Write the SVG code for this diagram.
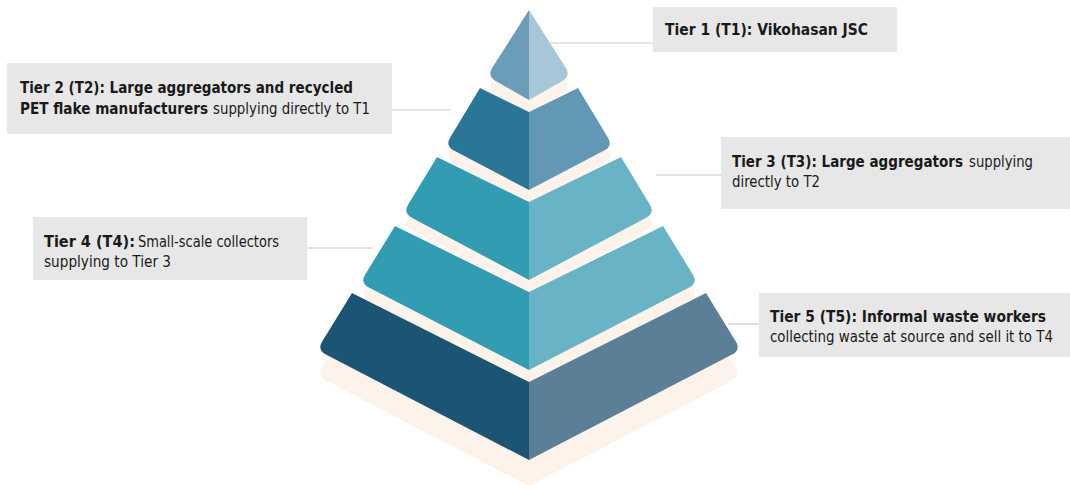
<svg xmlns="http://www.w3.org/2000/svg" width="1070" height="485" viewBox="0 0 1070 485">
<style>
.cream{fill:#fdf3ea}
.t1l{fill:#6b9cba}.t1r{fill:#a7c7d8}
.t2l{fill:#297696}.t2r{fill:#6298b5}
.t3l{fill:#329cb3}.t3r{fill:#69b3c6}
.t5l{fill:#1c5574}.t5r{fill:#5a7f97}
.box{fill:#e7e7e7}
.lbl{font-family:"DejaVu Sans Condensed","DejaVu Sans",sans-serif;font-size:15.5px;fill:#1a1a1a}
.b{font-weight:bold}
.conn line{stroke:#d9c5b8;stroke-width:1.2}
</style>
<rect width="1070" height="485" fill="#ffffff"/>
<g id="shadows">
<path class="cream" transform="translate(0,26)" d="M529,382 L706,293 L735.8,341.5 Q741,350 732.1,354.6 L529,460 L325.9,354.6 Q317,350 322.2,341.5 L352,293 Z"/>
<path class="cream" transform="translate(0,13)" d="M529,10 L565.6,67.6 Q571,76 562.3,81 L529,100 L495.7,81 Q487,76 492.4,67.6 Z"/>
<path class="cream" transform="translate(0,13)" d="M529,112 L578,88 L607.8,137.4 Q613,146 604.1,150.6 L529,190 L453.9,150.6 Q445,146 450.2,137.4 L480,88 Z"/>
<path class="cream" transform="translate(0,13)" d="M529,202 L621,157 L649.8,204.4 Q655,213 646.2,217.7 L529,280 L411.8,217.7 Q403,213 408.2,204.4 L437,157 Z"/>
<path class="cream" transform="translate(0,13)" d="M529,292 L663,226 L692.8,274.5 Q698,283 689.1,287.6 L529,370 L368.9,287.6 Q360,283 365.2,274.5 L395,226 Z"/>
</g>
<g id="tier1">
<path class="t1l" d="M529,10 L492.4,67.6 Q487,76 495.7,81 L529,100 Z"/>
<path class="t1r" d="M529,10 L565.6,67.6 Q571,76 562.3,81 L529,100 Z"/>
</g>
<g id="tier2">
<path class="t2l" d="M529,112 L480,88 L450.2,137.4 Q445,146 453.9,150.6 L529,190 Z"/>
<path class="t2r" d="M529,112 L578,88 L607.8,137.4 Q613,146 604.1,150.6 L529,190 Z"/>
</g>
<g id="tier3">
<path class="t3l" d="M529,202 L437,157 L408.2,204.4 Q403,213 411.8,217.7 L529,280 Z"/>
<path class="t3r" d="M529,202 L621,157 L649.8,204.4 Q655,213 646.2,217.7 L529,280 Z"/>
</g>
<g id="tier4">
<path class="t3l" d="M529,292 L395,226 L365.2,274.5 Q360,283 368.9,287.6 L529,370 Z"/>
<path class="t3r" d="M529,292 L663,226 L692.8,274.5 Q698,283 689.1,287.6 L529,370 Z"/>
</g>
<g id="tier5">
<path class="t5l" d="M529,382 L352,293 L322.2,341.5 Q317,350 325.9,354.6 L529,460 Z"/>
<path class="t5r" d="M529,382 L706,293 L735.8,341.5 Q741,350 732.1,354.6 L529,460 Z"/>
</g>
<g id="connectors" class="conn">
<line x1="547" y1="43" x2="653" y2="43"/>
<line x1="392" y1="110" x2="450" y2="110"/>
<line x1="656" y1="175" x2="721" y2="175"/>
<line x1="307" y1="248" x2="373" y2="248"/>
<line x1="728" y1="324" x2="759" y2="324"/>
</g>
<g id="label-t1">
<rect class="box" x="653" y="7" width="244" height="45"/>
<text class="lbl b" x="665" y="35" textLength="203" lengthAdjust="spacingAndGlyphs">Tier 1 (T1): Vikohasan JSC</text>
</g>
<g id="label-t2">
<rect class="box" x="7" y="63" width="385" height="71"/>
<text class="lbl b" x="20" y="93" textLength="333" lengthAdjust="spacingAndGlyphs">Tier 2 (T2): Large aggregators and recycled</text>
<text class="lbl b" x="20" y="114" textLength="188" lengthAdjust="spacingAndGlyphs">PET flake manufacturers</text>
<text class="lbl" x="213" y="114" textLength="157" lengthAdjust="spacingAndGlyphs">supplying directly to T1</text>
</g>
<g id="label-t3">
<rect class="box" x="721" y="137" width="349" height="72"/>
<text class="lbl b" x="732" y="167" textLength="231" lengthAdjust="spacingAndGlyphs">Tier 3 (T3): Large aggregators</text>
<text class="lbl" x="969" y="167" textLength="64" lengthAdjust="spacingAndGlyphs">supplying</text>
<text class="lbl" x="732" y="187" textLength="88" lengthAdjust="spacingAndGlyphs">directly to T2</text>
</g>
<g id="label-t4">
<rect class="box" x="33" y="217" width="274" height="63"/>
<text class="lbl b" x="44" y="247" textLength="91" lengthAdjust="spacingAndGlyphs">Tier 4 (T4):</text>
<text class="lbl" x="138" y="247" textLength="141" lengthAdjust="spacingAndGlyphs">Small-scale collectors</text>
<text class="lbl" x="44" y="267" textLength="127" lengthAdjust="spacingAndGlyphs">supplying to Tier 3</text>
</g>
<g id="label-t5">
<rect class="box" x="759" y="293" width="311" height="64"/>
<text class="lbl b" x="770" y="322" textLength="276" lengthAdjust="spacingAndGlyphs">Tier 5 (T5): Informal waste workers</text>
<text class="lbl" x="770" y="342" textLength="283" lengthAdjust="spacingAndGlyphs">collecting waste at source and sell it to T4</text>
</g>
</svg>
